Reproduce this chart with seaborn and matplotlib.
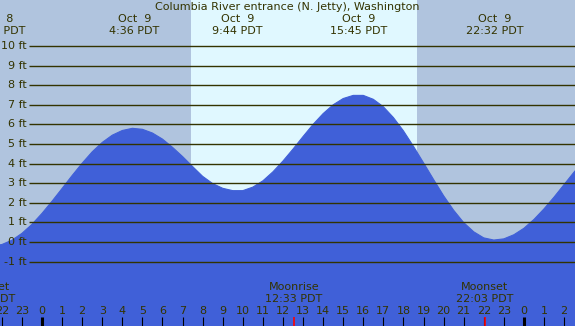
import numpy as np
import pandas as pd
import matplotlib
matplotlib.use('Agg')
import matplotlib.pyplot as plt
import seaborn as sns

# --- Datos (altura de marea en pies, cada media hora) ---
HOURS = [-2.5, -2.0, -1.5, -1.0, -0.5, 0.0, 0.5, 1.0, 1.5, 2.0, 2.5, 3.0, 3.5, 4.0, 4.5,
         5.0, 5.5, 6.0, 6.5, 7.0, 7.5, 8.0, 8.5, 9.0, 9.5,
         10.0, 10.5, 11.0, 11.5, 12.0, 12.5, 13.0, 13.5, 14.0, 14.5, 15.0, 15.5,
         16.0, 16.5, 17.0, 17.5, 18.0, 18.5, 19.0, 19.5, 20.0, 20.5, 21.0, 21.5, 22.0, 22.5,
         23.0, 23.5, 24.0, 24.5, 25.0, 25.5, 26.0, 26.5, 27.0]
TIDE_FT = [-0.20, -0.13, 0.09, 0.44, 0.90, 1.46, 2.08, 2.73, 3.39, 4.02, 4.60, 5.08, 5.45, 5.69, 5.80,
           5.75, 5.56, 5.25, 4.83, 4.36, 3.85, 3.35, 2.98, 2.74, 2.62,
           2.62, 2.80, 3.12, 3.58, 4.13, 4.74, 5.38, 6.00, 6.55, 7.00, 7.32, 7.48,
           7.48, 7.28, 6.90, 6.35, 5.67, 4.88, 4.04, 3.19, 2.36, 1.62, 0.99, 0.52, 0.21, 0.10,
           0.16, 0.37, 0.70, 1.15, 1.69, 2.29, 2.93, 3.57, 4.17]

EXTREME_HOURS = [-2.25, 4.6, 9.733, 15.75, 22.533]
EXTREME_LABELS = ['Oct  8\n21:45 PDT', 'Oct  9\n4:36 PDT', 'Oct  9\n9:44 PDT',
                  'Oct  9\n15:45 PDT', 'Oct  9\n22:32 PDT']

MOON_HOURS = [-2.75, 12.55, 22.05]
MOON_LABELS = ['Moonset\n21:15 PDT', 'Moonrise\n12:33 PDT', 'Moonset\n22:03 PDT']

SUNRISE = 7.42
SUNSET = 18.67
FT_LEVELS = list(range(-1, 11))
TITLE = 'Columbia River entrance (N. Jetty), Washington'

# --- Colores ---
NIGHT = '#B0C4DE'
DAY = '#E0F8FF'
WATER = '#4060D8'
INK = '#333300'

W, H = 575, 326


def py(ypx):
    # posicion vertical en pixeles (desde arriba) -> fraccion de ejes
    return 1 - ypx / H


def main():
    sns.set_theme(style='white')
    plt.rcParams['font.family'] = ['DejaVu Sans']

    df = pd.DataFrame({'hour': HOURS, 'ft': TIDE_FT})

    fig = plt.figure(figsize=(W / 100, H / 100), dpi=100)
    ax = fig.add_axes([0, 0, 1, 1])
    ax.set_facecolor(NIGHT)
    ax.axvspan(SUNRISE, SUNSET, color=DAY, zorder=0, lw=0)

    ax.fill_between(df['hour'], df['ft'], -10, color=WATER, lw=0, zorder=1)
    sns.lineplot(data=df, x='hour', y='ft', color=WATER, lw=0.8, ax=ax, zorder=1)

    # Escala: 0 en x=42 px, 20.08 px/hora ; 0 ft en y=242 px, 19.6 px/ft
    ax.set_xlim(-42 / 20.08, (W - 42) / 20.08)
    ax.set_ylim(-(H - 242) / 19.6, 242 / 19.6)

    x_line = (29 - 42) / 20.08
    x_lab = (27 - 42) / 20.08
    ax.hlines(FT_LEVELS, x_line, 30, color=INK, lw=1.0, zorder=2)
    for ft in FT_LEVELS:
        ax.text(x_lab, ft, f'{ft} ft', ha='right', va='center', fontsize=8, color=INK, zorder=3)

    tr = ax.get_xaxis_transform()
    ax.text(0.5, py(7), TITLE, transform=ax.transAxes, ha='center', va='center',
            fontsize=8, color=INK)
    for h, lab in zip(EXTREME_HOURS, EXTREME_LABELS):
        ax.text(h, py(25), lab, transform=tr, ha='center', va='center', fontsize=8,
                color=INK, linespacing=1.15)
    for h, lab in zip(MOON_HOURS, MOON_LABELS):
        ax.text(h, py(293), lab, transform=tr, ha='center', va='center', fontsize=8,
                color=INK, linespacing=1.15)

    # Horas y marcas del eje inferior
    for h in range(-2, 28):
        ax.text(h, py(311.5), str(h % 24), transform=tr, ha='center', va='center',
                fontsize=8, color=INK)
        thick = (h % 24 == 0)
        ax.plot([h, h], [py(317), 0], transform=tr, color='black',
                lw=2.2 if thick else 0.8, solid_capstyle='butt', clip_on=False)
    for h in MOON_HOURS:
        ax.plot([h, h], [py(317), 0], transform=tr, color='red', lw=1.2,
                solid_capstyle='butt')

    ax.set_xticks([])
    ax.set_yticks([])
    ax.set_xlabel('')
    ax.set_ylabel('')
    for s in ax.spines.values():
        s.set_visible(False)

    fig.savefig('out.png', dpi=100)


if __name__ == '__main__':
    main()
